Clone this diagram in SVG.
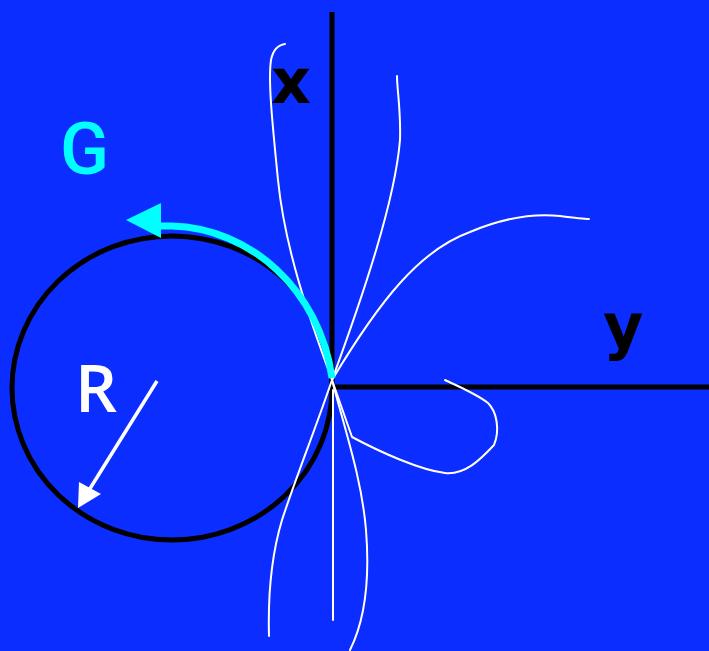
<svg xmlns="http://www.w3.org/2000/svg" width="709" height="651" viewBox="0 0 709 651">
<style>
.curve{fill:none;stroke:#ffffff;stroke-width:2;stroke-linecap:round;stroke-linejoin:round}
.axis{stroke:#000;stroke-width:5;fill:none}
.lbl{font-family:"DejaVu Sans","Liberation Sans",sans-serif;font-weight:bold}
</style>
<rect width="709" height="651" fill="#0b2dff"/>
<g id="axes">
<line class="axis" x1="332" y1="12" x2="332" y2="389"/>
<line class="axis" x1="330" y1="387" x2="709" y2="387"/>
</g>
<g id="circle">
<ellipse cx="172" cy="388" rx="160" ry="152" fill="none" stroke="#000" stroke-width="5"/>
</g>
<g id="curves">
<path class="curve" d="M332,380 C310,320 285,250 278,180 C272,120 268,80 271,60 C273,50 278,45 285,44"/>
<path class="curve" d="M332,380 C365,290 395,200 400,140 C401,110 397,90 397,76"/>
<path class="curve" d="M332,380 C380,300 420,250 470,232 C510,215 540,214 560,216 C575,218 585,219 589,219"/>
<path class="curve" d="M332,380 L352,437 C380,452 420,470 445,473 C465,475 480,460 494,445 C500,430 497,412 488,403 C475,393 455,385 445,380"/>
<path class="curve" d="M333,390 L333,620"/>
<path class="curve" d="M332,380 C315,430 295,480 282,520 C270,560 268,600 269,636"/>
<path class="curve" d="M332,380 C345,430 362,480 366,530 C370,580 365,620 350,650"/>
</g>
<g id="G-arrow">
<path d="M332,378 C320,290 250,228 172,226 L158,226" fill="none" stroke="#00ffff" stroke-width="7"/>
<path d="M126,220 L161,203 L161,238 z" fill="#00ffff"/>
</g>
<g id="R-arrow">
<line x1="157" y1="381" x2="86" y2="495" stroke="#fff" stroke-width="3.5"/>
<path d="M78,508 L79,482 L101,494 z" fill="#fff"/>
</g>
<g id="labels">
<text class="lbl" x="271" y="103" font-size="62" fill="#000">x</text>
<text class="lbl" x="603" y="348" font-size="62" fill="#000">y</text>
<text x="60" y="174" font-size="72" fill="#00ffff" font-family="Roboto,sans-serif" font-weight="500">G</text>
<text x="75" y="412" font-size="66" fill="#fff" font-family="'Open Sans',sans-serif" font-weight="600">R</text>
</g>
</svg>
